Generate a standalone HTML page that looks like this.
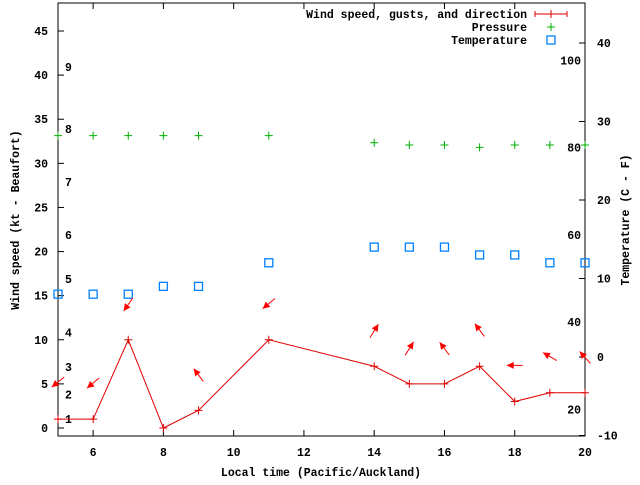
<!DOCTYPE html>
<html><head><meta charset="utf-8"><style>
html,body{margin:0;padding:0;background:#fff;}
svg text{font-family:"Liberation Mono",monospace;font-size:11.5px;font-weight:bold;fill:#000;}
</style></head><body>
<svg id="chart" width="640" height="480" xmlns="http://www.w3.org/2000/svg"></svg>
<script>
const hours=[5,6,7,8,9,11,14,15,16,17,18,19,20];
const windKt=[1,1,10,0,2,10,7,5,5,7,3,4,4];
const arrowHours=[5,6,7,9,11,14,15,16,17,18,19,20];
const arrowKt=[5.2,5.1,14,6,14.1,11,9,9,11.1,7.1,8.1,8];
const arrowHeading=[231,230,215,323,230,32,32,323,323,270,300,318];
const pressureC=[28.2,28.2,28.2,28.2,28.2,28.2,27.3,27,27,26.7,27,27,27];
const tempC=[8,8,8,9,9,12,14,14,14,13,13,12,12];
const xTicks=[6,8,10,12,14,16,18,20];
const yTicks=[0,5,10,15,20,25,30,35,40,45];
const y2Ticks=[-10,0,10,20,30,40];
const fTicks=[20,40,60,80,100];
const bftLabels=[1,2,3,4,5,6,7,8,9];
const bftKt=[1,3.8,6.9,10.8,16.9,21.9,27.9,33.9,40.9];

const L=58,R=585,T=3,B=436;
const X=h=>L+(h-5)*(R-L)/15;
const Y=k=>428-k*(428-31)/45;
const Y2=c=>357-c*(357-43)/40;
const svg=document.getElementById('chart');
const NS='http://www.w3.org/2000/svg';
function mk(tag,attrs,name,parent){const e=document.createElementNS(NS,tag);for(const k in attrs)e.setAttribute(k,attrs[k]);


(parent||svg).appendChild(e);return e;}
function txt(s,x,y,anchor,name,extra){const t=mk('text',Object.assign({x:x,y:y,'text-anchor':anchor},extra||{}),name);t.textContent=s;return t;}

mk('rect',{x:L,y:T,width:R-L,height:B-T,fill:'none',stroke:'#000','stroke-width':1},'plot-border');
xTicks.forEach(h=>{const x=X(h);
mk('line',{x1:x,y1:B,x2:x,y2:B-6,stroke:'#000'},'x-tick');
mk('line',{x1:x,y1:T,x2:x,y2:T+6,stroke:'#000'},'x-tick-top');
txt(String(h),x,456,'middle','x-tick-label');});
yTicks.forEach(k=>{const y=Y(k);
mk('line',{x1:L,y1:y,x2:L+6,y2:y,stroke:'#000'},'y-tick');
txt(String(k),48,y+4,'end','y-tick-label');});
y2Ticks.forEach(c=>{const y=Y2(c);
mk('line',{x1:R,y1:y,x2:R-6,y2:y,stroke:'#000'},'y2-tick');
txt(String(c),597,y+4,'start','y2-tick-label');});
fTicks.forEach(f=>{txt(String(f),581,Y2((f-32)/1.8)+4,'end','fahrenheit-label');});
bftLabels.forEach((b,i)=>{txt(String(b),65,Y(bftKt[i])+4,'start','beaufort-label');});

txt('Local time (Pacific/Auckland)',321,476,'middle','x-axis-title');
txt('Wind speed (kt - Beaufort)',0,0,'middle','y-axis-title',{transform:'translate(19,220) rotate(-90)'});
txt('Temperature (C - F)',0,0,'middle','y2-axis-title',{transform:'translate(629,220) rotate(-90)'});

// pressure
pressureC.forEach((p,i)=>{const x=X(hours[i]),y=Y2(p);
mk('path',{d:`M${x-4},${y}H${x+4}M${x},${y-4}V${y+4}`,stroke:'#00b000','stroke-width':1},'pressure-point');});
// temperature
tempC.forEach((c,i)=>{const x=X(hours[i]),y=Y2(c);
mk('rect',{x:x-4,y:y-4,width:8,height:8,fill:'none',stroke:'#0080ff','stroke-width':1.3},'temperature-point');});
// wind line
mk('polyline',{points:hours.map((h,i)=>X(h)+','+Y(windKt[i])).join(' '),fill:'none',stroke:'#e00000','stroke-width':1},'wind-speed-line');
hours.forEach((h,i)=>{const x=X(h),y=Y(windKt[i]);
mk('path',{d:`M${x-4},${y}H${x+4}M${x},${y-4}V${y+4}`,stroke:'#e00000'},'wind-speed-point');});
// arrows
arrowHours.forEach((h,i)=>{const cx=X(h),cy=Y(arrowKt[i]),a=arrowHeading[i]*Math.PI/180,len=8;
const dx=Math.sin(a),dy=-Math.cos(a);
const hx=cx+dx*len,hy=cy+dy*len,tx=cx-dx*len,ty=cy-dy*len;
const bx=hx-dx*7,by=hy-dy*7,px=-dy,py=dx;
mk('line',{x1:tx,y1:ty,x2:hx,y2:hy,stroke:'#f00','stroke-width':1},'wind-direction-shaft');
mk('polygon',{points:`${hx},${hy} ${bx+px*3.5},${by+py*3.5} ${bx-px*3.5},${by-py*3.5}`,fill:'#f00'},'wind-direction-head');});

// legend
txt('Wind speed, gusts, and direction',527,18,'end','legend-wind-label');
mk('path',{d:'M535,14H567M535,11V17M567,11V17M551,10V18',stroke:'#e00000'},'legend-wind-sample');
txt('Pressure',527,31,'end','legend-pressure-label');
mk('path',{d:'M547,27H555M551,23V31',stroke:'#00b000'},'legend-pressure-sample');
txt('Temperature',527,44,'end','legend-temperature-label');
mk('rect',{x:547,y:36,width:8,height:8,fill:'none',stroke:'#0080ff','stroke-width':1.3},'legend-temperature-sample');
</script>
</body></html>
